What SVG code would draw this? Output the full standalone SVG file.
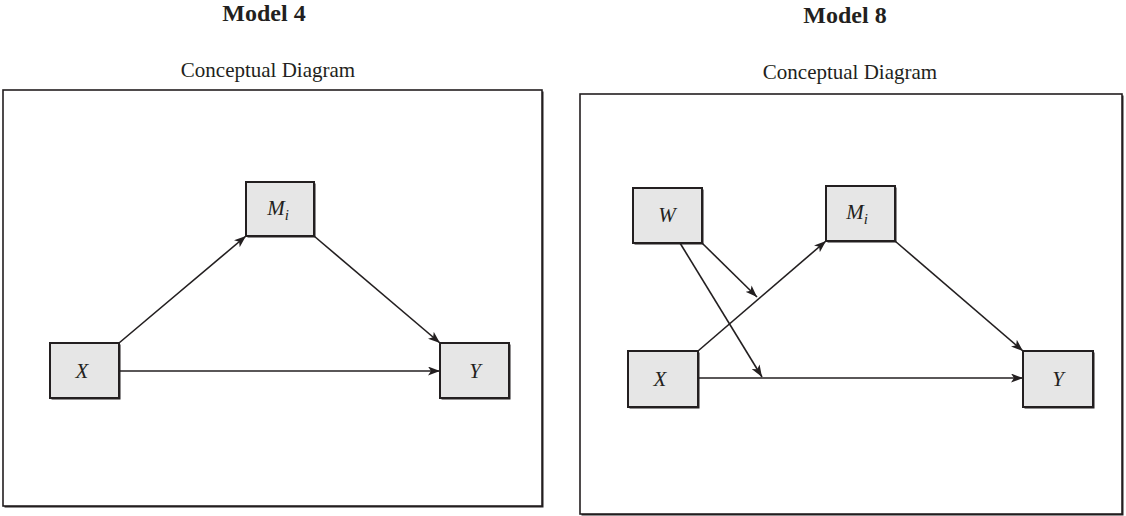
<svg xmlns="http://www.w3.org/2000/svg" width="1126" height="516" viewBox="0 0 1126 516">
<style>
.title{font-family:"Liberation Serif",serif;font-weight:bold;font-size:24px;fill:#231f20;text-anchor:middle}
.sub{font-family:"Liberation Serif",serif;font-size:21px;fill:#231f20;text-anchor:middle}
.frame{fill:#fff;stroke:#231f20;stroke-width:1.6}
.fshadow{fill:#231f20}
.box{fill:#e6e6e6;stroke:#231f20;stroke-width:2}
.shadow{fill:#231f20}
.lbl{font-family:"Liberation Serif",serif;font-style:italic;font-size:21px;fill:#231f20;text-anchor:middle}
.edge{fill:none;stroke:#231f20;stroke-width:1.6;marker-end:url(#ah)}
</style>
<defs>
<marker id="ah" viewBox="0 0 12 9" refX="12" refY="4.5" markerWidth="12" markerHeight="9" markerUnits="userSpaceOnUse" orient="auto">
<path d="M0,0 L12,4.5 L0,9 L3,4.5 Z" fill="#231f20"/>
</marker>
</defs>
<rect width="1126" height="516" fill="#fff"/>
<text class="title" x="264" y="21">Model 4</text>
<text class="sub" x="268" y="77">Conceptual Diagram</text>
<text class="title" x="845" y="23">Model 8</text>
<text class="sub" x="850" y="79">Conceptual Diagram</text>
<rect class="fshadow" x="4.5" y="91.5" width="539" height="416"/>
<rect class="frame" x="3" y="90" width="539" height="416"/>
<rect class="fshadow" x="581.5" y="95.5" width="542" height="420"/>
<rect class="frame" x="580" y="94" width="542" height="420"/>
<g id="connectors">
<line class="edge" x1="119" y1="343" x2="246" y2="236"/>
<line class="edge" x1="314" y1="236" x2="440" y2="343"/>
<line class="edge" x1="119" y1="371" x2="440" y2="371"/>
<line class="edge" x1="698" y1="351" x2="826" y2="241"/>
<line class="edge" x1="895" y1="241" x2="1023" y2="351"/>
<line class="edge" x1="698" y1="378" x2="1023" y2="378"/>
<line class="edge" x1="702" y1="243" x2="757" y2="297"/>
<line class="edge" x1="680" y1="243" x2="762" y2="377"/>
</g>
<g id="m4-M"><rect class="shadow" x="247.5" y="183.5" width="68" height="54"/><rect class="box" x="246" y="182" width="68" height="54"/><text class="lbl" x="278" y="215">M<tspan font-size="15" dy="5">i</tspan></text></g>
<g id="m4-X"><rect class="shadow" x="51.5" y="344.5" width="69" height="55"/><rect class="box" x="50" y="343" width="69" height="55"/><text class="lbl" x="82" y="378">X</text></g>
<g id="m4-Y"><rect class="shadow" x="441.5" y="344.5" width="69" height="55"/><rect class="box" x="440" y="343" width="69" height="55"/><text class="lbl" x="475" y="378">Y</text></g>
<g id="m8-W"><rect class="shadow" x="634.5" y="189.5" width="69" height="55"/><rect class="box" x="633" y="188" width="69" height="55"/><text class="lbl" x="667" y="222">W</text></g>
<g id="m8-M"><rect class="shadow" x="827.5" y="187.5" width="69" height="55"/><rect class="box" x="826" y="186" width="69" height="55"/><text class="lbl" x="857" y="219">M<tspan font-size="15" dy="5">i</tspan></text></g>
<g id="m8-X"><rect class="shadow" x="629.5" y="352.5" width="70" height="56"/><rect class="box" x="628" y="351" width="70" height="56"/><text class="lbl" x="660" y="386">X</text></g>
<g id="m8-Y"><rect class="shadow" x="1024.5" y="352.5" width="70" height="56"/><rect class="box" x="1023" y="351" width="70" height="56"/><text class="lbl" x="1058" y="386">Y</text></g>
</svg>
